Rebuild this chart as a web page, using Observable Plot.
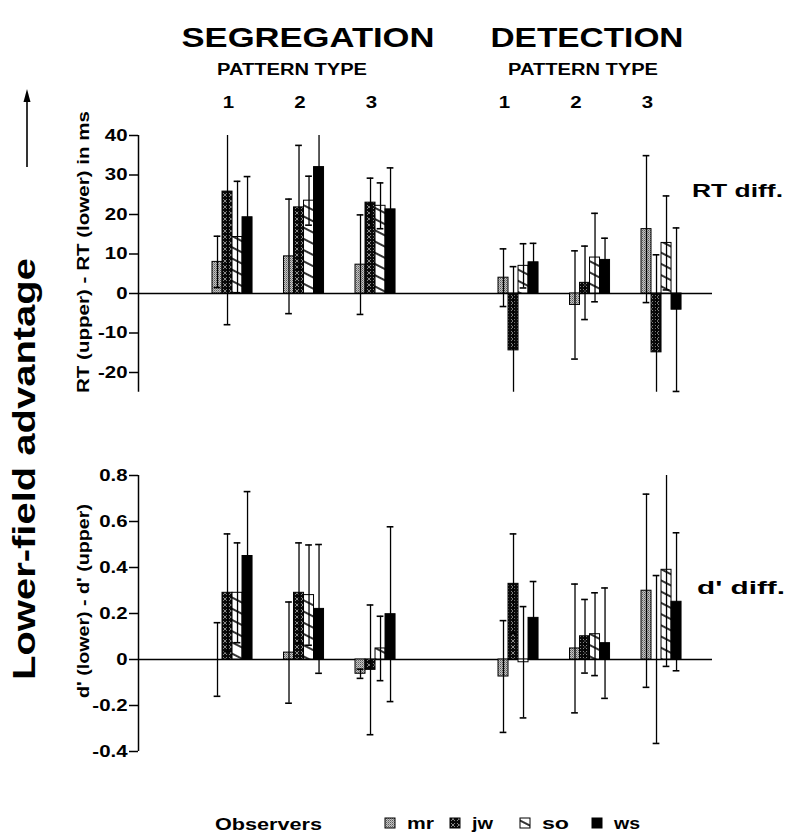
<!DOCTYPE html>
<html><head><meta charset="utf-8">
<script src="https://cdn.jsdelivr.net/npm/d3@7"></script>
<script src="https://cdn.jsdelivr.net/npm/@observablehq/plot@0.6"></script>
<style>
body{margin:0;background:#fff;}
#root{position:relative;width:792px;height:832px;overflow:hidden;font-family:"Liberation Sans",Arial,sans-serif;}
#root svg{position:absolute;left:0;}
</style></head><body><div id="root"></div>
<script>
// ---------- data ----------
const observers = ["mr", "jw", "so", "ws"];
const tasks = ["SEGREGATION", "DETECTION"];
const patternTypes = [1, 2, 3];

// RT (upper) - RT (lower), ms : [pattern type][observer]
const rtSegMean = [[8.0, 25.8, 14.3, 19.3], [9.4, 21.8, 23.5, 32.0], [7.3, 23.0, 22.2, 21.3]];
const rtSegErr  = [[6.5, 33.7, 14.1, 10.3], [14.5, 15.7, 6.2, 10.0], [12.6, 6.2, 5.8, 10.5]];
const rtDetMean = [[4.0, -14.4, 7.0, 7.9], [-2.9, 2.7, 9.1, 8.5], [16.3, -14.9, 12.8, -4.1]];
const rtDetErr  = [[7.3, 21.2, 5.6, 4.8], [13.7, 9.3, 11.2, 5.5], [18.6, 24.7, 11.9, 20.7]];

// d' (lower) - d' (upper) : [pattern type][observer]
const dSegMean = [[0.0, 0.29, 0.29, 0.45], [0.03, 0.29, 0.28, 0.22], [-0.062, -0.045, 0.048, 0.197]];
const dSegErr  = [[0.16, 0.256, 0.217, 0.28], [0.22, 0.217, 0.218, 0.28], [0.02, 0.282, 0.14, 0.38]];
const dDetMean = [[-0.074, 0.329, -0.012, 0.181], [0.048, 0.101, 0.110, 0.071], [0.299, 0.0, 0.39, 0.251]];
const dDetErr  = [[0.243, 0.217, 0.242, 0.158], [0.28, 0.16, 0.18, 0.24], [0.42, 0.365, 0.42, 0.30]];

const rtTicks = [40, 30, 20, 10, 0, -10, -20];
const dTicks = [0.8, 0.6, 0.4, 0.2, 0, -0.2, -0.4];

// ---------- helpers ----------
const FONT = '"Liberation Sans", Arial, Helvetica, sans-serif';
const STRETCH = 1.2;
const root = document.getElementById("root");
const xDomain = [-0.315, 7.713];
const bw = 0.14;   // bar width (x units)
const cw = 0.047;  // half cap width

function buildRows(meanSeg, errSeg, meanDet, errDet) {
  const means = [meanSeg, meanDet], errs = [errSeg, errDet];
  const rows = [];
  tasks.forEach((task, t) => patternTypes.forEach((pt, p) => observers.forEach((obs, o) => {
    const pos = t * (patternTypes.length + 1) + p + 1;
    const v = means[t][p][o], e = errs[t][p][o];
    rows.push({task, pt, obs, o, pos, v, e, lo: v - e, hi: v + e});
  })));
  return rows;
}
const xc = d => d.pos + (d.o - 1.5) * bw;

function stretchTexts(svg) {
  svg.querySelectorAll("text").forEach(t => {
    const L = t.getComputedTextLength();
    if (L > 0) { t.setAttribute("textLength", L * STRETCH); t.setAttribute("lengthAdjust", "spacingAndGlyphs"); }
  });
}

function panel({rows, domain, ticks, top, height, marginTop, marginBottom, extra = []}) {
  const [d0, d1] = domain;
  const marks = [
    Plot.ruleY([0], {strokeWidth: 1.5}),
    ...observers.map(obs => Plot.rectY(rows.filter(d => d.obs === obs), {
      x1: d => d.pos + (d.o - 2) * bw, x2: d => d.pos + (d.o - 1) * bw,
      y1: 0, y2: "v", fill: `url(#pat-${obs})`, stroke: "black", strokeWidth: 1
    })),
    Plot.ruleX(rows, {x: xc, y1: d => Math.max(d.lo, d0), y2: d => Math.min(d.hi, d1), strokeWidth: 1.3}),
    Plot.ruleY(rows.filter(d => d.hi <= d1), {y: "hi", x1: d => xc(d) - cw, x2: d => xc(d) + cw, strokeWidth: 1.6}),
    Plot.ruleY(rows.filter(d => d.lo >= d0), {y: "lo", x1: d => xc(d) - cw, x2: d => xc(d) + cw, strokeWidth: 1.6}),
    Plot.ruleX([xDomain[0]], {y1: d0, y2: d1, strokeWidth: 1.5}),
    Plot.axisY({ticks, tickSize: 9, tickPadding: 2, strokeWidth: 1.5, tickFormat: d => String(d), label: null, fontSize: 17, fontWeight: "bold"}),
    ...extra
  ];
  const svg = Plot.plot({
    width: 792, height, marginTop, marginBottom, marginLeft: 138, marginRight: 80,
    x: {domain: xDomain, axis: null},
    y: {domain, axis: null},
    style: {fontFamily: FONT, fontSize: "16px", fontWeight: "bold", color: "black", background: "transparent", overflow: "visible"},
    marks
  });
  svg.style.top = top + "px";
  root.appendChild(svg);
  stretchTexts(svg);
  return svg;
}

// ---------- top panel: RT diff ----------
const rtRows = buildRows(rtSegMean, rtSegErr, rtDetMean, rtDetErr);
const labelRows = tasks.flatMap((task, t) => patternTypes.map((pt, p) => ({task, pt, pos: t * (patternTypes.length + 1) + p + 1})));
panel({
  rows: rtRows, domain: [-25, 40], ticks: rtTicks, top: 0, height: 400, marginTop: 135, marginBottom: 8.25,
  extra: [
    Plot.text(labelRows.filter(d => d.task === "SEGREGATION"), {x: "pos", text: d => String(d.pt), frameAnchor: "top", dy: -33, dx: -4, lineAnchor: "middle", fontSize: 17}),
    Plot.text(labelRows.filter(d => d.task === "DETECTION"), {x: "pos", text: d => String(d.pt), frameAnchor: "top", dy: -33, dx: -14, lineAnchor: "middle", fontSize: 17})
  ]
});

// ---------- bottom panel: d' diff ----------
const dRows = buildRows(dSegMean, dSegErr, dDetMean, dDetErr);
panel({rows: dRows, domain: [-0.4, 0.8], ticks: dTicks, top: 440, height: 330, marginTop: 35, marginBottom: 19});

// ---------- overlay: patterns, titles, labels, legend ----------
const ov = d3.select(root).append("svg").attr("width", 792).attr("height", 832)
  .style("top", "0px").style("pointer-events", "none").style("font-family", FONT).style("font-weight", "bold");
const defs = ov.append("defs");
// mr: gray stipple
const pMr = defs.append("pattern").attr("id", "pat-mr").attr("patternUnits", "userSpaceOnUse").attr("width", 2).attr("height", 2);
pMr.append("rect").attr("width", 2).attr("height", 2).attr("fill", "#c4c4c4");
pMr.append("rect").attr("width", 1).attr("height", 1).attr("fill", "#5a5a5a");
pMr.append("rect").attr("x", 1).attr("y", 1).attr("width", 1).attr("height", 1).attr("fill", "#8a8a8a");
// jw: black with white crosses
const pJw = defs.append("pattern").attr("id", "pat-jw").attr("patternUnits", "userSpaceOnUse").attr("width", 6).attr("height", 6);
pJw.append("rect").attr("width", 6).attr("height", 6).attr("fill", "#0a0a0a");
pJw.append("path").attr("d", "M1,1L5,5M5,1L1,5").attr("stroke", "#dcdcdc").attr("stroke-width", 0.6);
// so: white with diagonal hatch
const pSo = defs.append("pattern").attr("id", "pat-so").attr("patternUnits", "userSpaceOnUse").attr("width", 10).attr("height", 10).attr("patternTransform", "rotate(27)");
pSo.append("rect").attr("width", 10).attr("height", 10).attr("fill", "white");
pSo.append("line").attr("x1", 0).attr("x2", 10).attr("y1", 5).attr("y2", 5).attr("stroke", "black").attr("stroke-width", 1.6);
// ws: solid black
const pWs = defs.append("pattern").attr("id", "pat-ws").attr("patternUnits", "userSpaceOnUse").attr("width", 4).attr("height", 4);
pWs.append("rect").attr("width", 4).attr("height", 4).attr("fill", "black");

function txt(str, x, y, size, len, anchor = "start", rot = false) {
  const t = ov.append("text").text(str).attr("font-size", size).attr("text-anchor", anchor)
    .attr("textLength", len).attr("lengthAdjust", "spacingAndGlyphs").attr("fill", "black");
  if (rot) t.attr("transform", `translate(${x},${y}) rotate(-90)`);
  else t.attr("x", x).attr("y", y);
  return t;
}

txt(tasks[0], 308, 47, 28, 253, "middle");
txt(tasks[1], 587, 47, 28, 193, "middle");
txt("PATTERN TYPE", 292, 75, 16, 150, "middle");
txt("PATTERN TYPE", 583, 75, 16, 150, "middle");
txt("RT  diff.", 692, 197, 19, 91, "start");
txt("d' diff.", 697, 594, 19, 88, "start");
txt("Lower-field advantage", 35, 469, 32, 422, "middle", true);
txt("RT (upper) - RT (lower) in ms", 89, 252, 16.5, 282, "middle", true);
txt("d' (lower) - d' (upper)", 89, 601, 16.5, 194, "middle", true);

// arrow
ov.append("line").attr("x1", 27).attr("x2", 27).attr("y1", 167).attr("y2", 100).attr("stroke", "black").attr("stroke-width", 1.6);
ov.append("path").attr("d", "M27,89L23.5,102L30.5,102Z").attr("fill", "black");

// legend
txt("Observers", 215, 830, 16, 107, "start");
const legX = [385, 450, 520, 592];
const legLen = [27, 21, 27, 26];
observers.forEach((obs, i) => {
  ov.append("rect").attr("x", legX[i]).attr("y", 818).attr("width", 10).attr("height", 10)
    .attr("fill", `url(#pat-${obs})`).attr("stroke", "black").attr("stroke-width", 1);
  txt(obs, legX[i] + 22, 829, 16, legLen[i], "start");
});
</script></body></html>
